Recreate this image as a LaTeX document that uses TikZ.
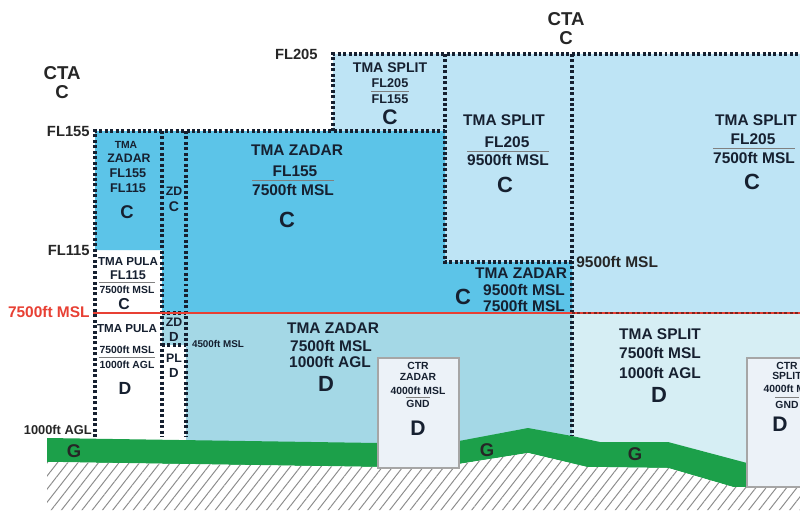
\documentclass[tikz,border=0pt]{standalone}
\usepackage{fontspec}
\setmainfont{Liberation Sans}
\usetikzlibrary{calc,patterns.meta}

\definecolor{ink}{RGB}{22,32,48}
\definecolor{zadarC}{RGB}{92,196,232}
\definecolor{splitC}{RGB}{190,228,245}
\definecolor{zadarD}{RGB}{164,216,230}
\definecolor{splitD}{RGB}{214,238,244}
\definecolor{ctrfill}{RGB}{236,242,248}
\definecolor{grass}{RGB}{28,160,74}
\definecolor{mslred}{RGB}{232,64,52}

% thin rule between upper and lower limit
\newcommand{\limitrule}[2]{%
  \path ($(#1.south)!.5!(#2.north)$) coordinate (mid);
  \draw[lim] (mid -| #2.west) -- (mid -| #2.east);}

\begin{document}
\begin{tikzpicture}
[x=0.02cm, y=-0.02cm,
 lbl/.style={inner sep=0pt, text=ink, font=\bfseries\fontsize{8.8}{10}\selectfont},
 cls/.style={lbl, font=\bfseries\fontsize{12.5}{14}\selectfont},
 sml/.style={lbl, font=\bfseries\fontsize{7.2}{8}\selectfont},
 tny/.style={lbl, font=\bfseries\fontsize{5.9}{7}\selectfont},
 lvl/.style={lbl, text=black!85, anchor=east, font=\bfseries\fontsize{8.4}{10}\selectfont},
 cta/.style={lbl, text=black!85, align=center, font=\bfseries\fontsize{10.6}{10.8}\selectfont},
 gnd/.style={lbl, text=black!85, font=\bfseries\fontsize{10.5}{12}\selectfont},
 bdr/.style={line width=1.9pt, dash pattern=on 1.7pt off 1.4pt, ink},
 lim/.style={gray, line width=0.4pt},
 ctrbox/.style={fill=ctrfill, draw=gray!70, line width=0.6pt}]

\useasboundingbox (0,0) rectangle (800,510);
\clip (0,0) rectangle (800,510);
\fill[white] (0,0) rectangle (800,510);

% airspace fills
\fill[splitC] (333,54) -- (800,54) -- (800,313) -- (572,313) -- (572,262) -- (445,262) -- (445,131) -- (333,131) -- cycle;
\fill[zadarC] (95,131) -- (445,131) -- (445,262) -- (572,262) -- (572,313) -- (162,313) -- (162,250) -- (95,250) -- cycle;
\fill[zadarD] (162,313) rectangle (186,345);
\fill[zadarD] (186,313) rectangle (572,445);
\fill[splitD] (572,313) rectangle (800,470);

% ground and terrain
\fill[grass] (47,438) -- (378,443) -- (459,441) -- (528,428) -- (572,436) -- (600,442) -- (668,442) -- (747,463)
  -- (747,487) -- (733,487) -- (668,468) -- (587,467) -- (528,453) -- (459,464) -- (378,467) -- (47,462) -- cycle;
\path[fill=white, postaction={pattern={Lines[angle=52,distance=4.6pt,line width=0.55pt]}, pattern color=gray!90}]
  (47,462) -- (378,467) -- (459,467) -- (459,464) -- (528,453) -- (587,467) -- (668,468) -- (733,487)
  -- (800,487) -- (800,510) -- (47,510) -- cycle;

\draw[ctrbox] (378,468) rectangle (459,358);
\draw[ctrbox] (747,487) rectangle (820,358);

% boundaries
\draw[bdr] (333,131) -- (333,54) -- (800,54);
\draw[bdr] (95,437) -- (95,131) -- (445,131);
\draw[bdr] (162,131) -- (162,437);
\draw[bdr] (186,131) -- (186,437);
\draw[bdr] (445,54) -- (445,262) -- (572,262);
\draw[bdr] (572,54) -- (572,436);
\draw[bdr] (162,345) -- (186,345);
\draw[bdr] (162,313) -- (186,313);
\draw[mslred, line width=1.1pt] (93,313) -- (800,313);
\draw[bdr, line width=0.8pt, mslred!55!black] (572,313) -- (800,313);

% levels
\node (fl205) at (318,54)[lvl] {FL205};
\node (fl155) at (90,131)[lvl] {FL155};
\node (fl115) at (90,250)[lvl] {FL115};
\node (msl7500) at (90,312)[lvl, text=mslred, font=\bfseries\fontsize{8.8}{10}\selectfont] {7500ft MSL};
\node (agl1000) at (92,430)[lvl, font=\bfseries\fontsize{7.3}{9}\selectfont] {1000ft AGL};
\node (msl9500) at (576,262)[lvl, anchor=west, font=\bfseries\fontsize{8.8}{10}\selectfont] {9500ft MSL};
\node (ctaW) at (62,83)[cta] {CTA\\C};
\node (ctaN) at (566,29)[cta] {CTA\\C};

% TMA SPLIT FL205 / FL155
\node (s1n) at (390,68)[lbl, font=\bfseries\fontsize{8}{10}\selectfont] {TMA SPLIT};
\node (s1u) at (390,83)[sml] {FL205};
\node (s1l) at (390,99)[sml] {FL155};
\node (s1c) at (390,117)[cls, font=\bfseries\fontsize{12}{14}\selectfont] {C};
\limitrule{s1u}{s1l}

% TMA ZADAR FL155 / 7500ft
\node (z1n) at (297,150)[lbl] {TMA ZADAR};
\node (z1u) at (295,171)[lbl] {FL155};
\node (z1l) at (293,190)[lbl] {7500ft MSL};
\node (z1c) at (287,220)[cls] {C};
\limitrule{z1u}{z1l}

% TMA SPLIT FL205 / 9500ft
\node (s2n) at (504,120)[lbl] {TMA SPLIT};
\node (s2u) at (507,142)[lbl] {FL205};
\node (s2l) at (508,160)[lbl] {9500ft MSL};
\node (s2c) at (505,185)[cls] {C};
\limitrule{s2u}{s2l}

% TMA SPLIT FL205 / 7500ft
\node (s3n) at (756,120)[lbl] {TMA SPLIT};
\node (s3u) at (753,139)[lbl] {FL205};
\node (s3l) at (754,158)[lbl] {7500ft MSL};
\node (s3c) at (752,182)[cls] {C};
\limitrule{s3u}{s3l}

% narrow columns, upper part
\node (z2n) at (126,145)[tny] {TMA};
\node (z2m) at (129,158)[sml, font=\bfseries\fontsize{7}{8}\selectfont] {ZADAR};
\node (z2u) at (128,173)[sml] {FL155};
\node (z2l) at (128,188)[sml] {FL115};
\node (z2c) at (127,212)[cls, font=\bfseries\fontsize{10.5}{12}\selectfont] {C};
\node (zdn) at (174,191)[sml, font=\bfseries\fontsize{7}{8}\selectfont] {ZD};
\node (zdc) at (174,207)[sml, font=\bfseries\fontsize{8}{9}\selectfont] {C};

\node (p1n) at (128,262)[sml, font=\bfseries\fontsize{6.6}{8}\selectfont] {TMA PULA};
\node (p1u) at (128,275)[sml] {FL115};
\node (p1l) at (127,290)[tny] {7500ft MSL};
\node (p1c) at (124,304)[cls, font=\bfseries\fontsize{9}{10}\selectfont] {C};
\limitrule{p1u}{p1l}

% narrow columns, lower part
\node (p2n) at (127,329)[sml, font=\bfseries\fontsize{6.6}{8}\selectfont] {TMA PULA};
\node (p2u) at (127,350)[tny] {7500ft MSL};
\node (p2l) at (127,365)[tny] {1000ft AGL};
\node (p2c) at (125,388)[cls, font=\bfseries\fontsize{10}{12}\selectfont] {D};
\limitrule{p2u}{p2l}
\node (zd2n) at (174,322)[sml, font=\bfseries\fontsize{7}{8}\selectfont] {ZD};
\node (zd2c) at (174,337)[sml, font=\bfseries\fontsize{7.5}{8}\selectfont] {D};
\node (pln) at (174,358)[sml, font=\bfseries\fontsize{7}{8}\selectfont] {PL};
\node (plc) at (174,373)[sml, font=\bfseries\fontsize{7.5}{8}\selectfont] {D};
\node (msl4500) at (218,344)[tny, font=\bfseries\fontsize{5.6}{7}\selectfont] {4500ft MSL};

% TMA ZADAR 9500ft / 7500ft
\node (z3n) at (521,273)[lbl] {TMA ZADAR};
\node (z3u) at (524,290)[lbl] {9500ft MSL};
\node (z3l) at (524,306)[lbl] {7500ft MSL};
\node (z3c) at (463,297)[cls] {C};

% class D below 7500ft
\node (z4n) at (333,328)[lbl] {TMA ZADAR};
\node (z4u) at (331,346)[lbl] {7500ft MSL};
\node (z4l) at (330,362)[lbl] {1000ft AGL};
\node (z4c) at (326,384)[cls] {D};

\node (s4n) at (660,334)[lbl] {TMA SPLIT};
\node (s4u) at (660,353)[lbl] {7500ft MSL};
\node (s4l) at (660,373)[lbl] {1000ft AGL};
\node (s4c) at (659,395)[cls] {D};

% CTRs
\node (cz1) at (418,366)[tny] {CTR};
\node (cz2) at (418,377)[tny] {ZADAR};
\node (czu) at (418,391)[tny] {4000ft MSL};
\node (czl) at (418,404)[tny] {GND};
\node (czc) at (418,428)[cls, font=\bfseries\fontsize{12}{14}\selectfont] {D};
\limitrule{czu}{czl}

\node (cs1) at (787,366)[tny] {CTR};
\node (cs2) at (787,376)[tny] {SPLIT};
\node (csu) at (791,389)[tny] {4000ft MSL};
\node (csl) at (787,405)[tny] {GND};
\node (csc) at (780,424)[cls, font=\bfseries\fontsize{12}{14}\selectfont] {D};
\limitrule{csu}{csl}

% class G
\node (g1) at (74,451)[gnd] {G};
\node (g2) at (487,450)[gnd] {G};
\node (g3) at (635,454)[gnd] {G};

\end{tikzpicture}
\end{document}
